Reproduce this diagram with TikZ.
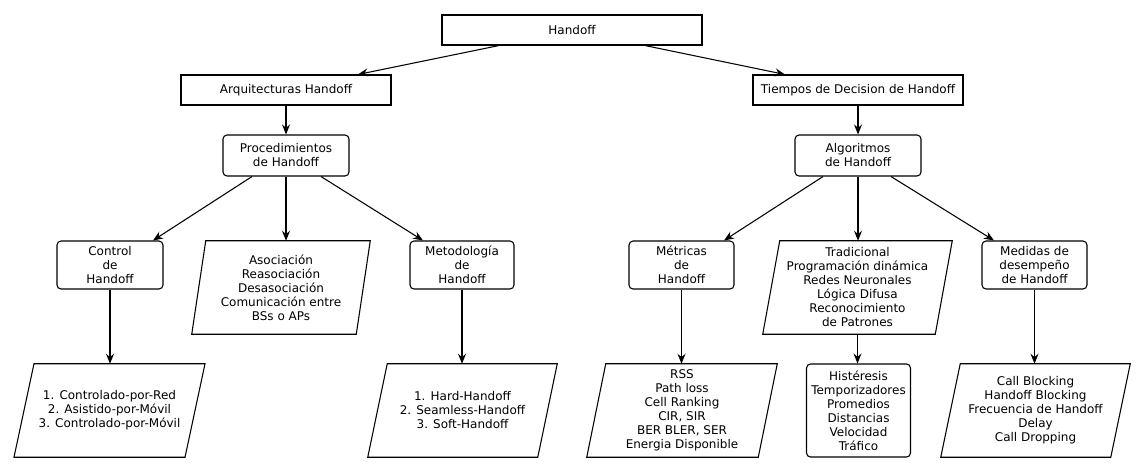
\documentclass[tikz,border=0pt]{standalone}
\usepackage{fontspec}
\setmainfont{DejaVu Sans}
\usetikzlibrary{arrows.meta,calc}
\newcommand{\drawpara}[2]{\draw[edge] ([shift={(#2/2,0)}]#1.north west) -- ([shift={(#2/2,0)}]#1.north east) -- ([shift={(-#2/2,0)}]#1.south east) -- ([shift={(-#2/2,0)}]#1.south west) -- cycle;}
\begin{document}
\begin{tikzpicture}[x=0.75pt,y=-0.75pt,
  every node/.style={font=\fontsize{9pt}{10.5pt}\selectfont, align=center, inner sep=0pt},
  edge/.style={line width=0.8pt, black},
  sqbox/.style={draw, edge, minimum width=#1*0.75pt, minimum height=30*0.75pt},
  rbox/.style={draw, edge, rounded corners=3pt, minimum width=#1*0.75pt},
  pbox/.style={minimum width=#1*0.75pt, minimum height=93*0.75pt},
  arr/.style={edge, -{Stealth[length=7.5pt,width=6pt,inset=2.5pt]}}]
\useasboundingbox (0,0) rectangle (1144,472);
\fill[white] (0,0) rectangle (1144,472);

% level 0-1
\node[sqbox=260] (root) at (572,30) {Handoff};
\node[sqbox=210] (arq) at (286,90) {Arquitecturas Handoff};
\node[sqbox=210] (tie) at (858,90) {Tiempos de Decision de Handoff};

% level 2
\node[rbox=126, minimum height=41*0.75pt] (proc) at (286,155.5) {Procedimientos\\de Handoff};
\node[rbox=126, minimum height=41*0.75pt] (alg) at (858,155.5) {Algoritmos\\de Handoff};

% level 3
\node[rbox=106, minimum height=48*0.75pt] (ctrl) at (110,265) {Control\\de\\Handoff};
\node[pbox=164] (asoc) at (281,287.5) {Asociación\\Reasociación\\Desasociación\\Comunicación entre\\BSs o APs};
\node[rbox=104, minimum height=48*0.75pt] (met) at (462,265) {Metodología\\de\\Handoff};
\node[rbox=105, minimum height=48*0.75pt] (metr) at (681.5,265) {Métricas\\de\\Handoff};
\node[pbox=172] (trad) at (857.5,287.5) {Tradicional\\Programación dinámica\\Redes Neuronales\\Lógica Difusa\\Reconocimiento\\de Patrones};
\node[rbox=105, minimum height=48*0.75pt] (med) at (1034.5,265) {Medidas de\\desempeño\\de Handoff};

% level 4
\node[pbox=170.5] (ctrlL) at (109.5,410.5) {1. Controlado-por-Red\\2. Asistido-por-Móvil\\3. Controlado-por-Móvil};
\node[pbox=169.5] (hard) at (462.5,410.5) {1. Hard-Handoff\\2. Seamless-Handoff\\3. Soft-Handoff};
\node[pbox=171] (rss) at (682,410.5) {RSS\\Path loss\\Cell Ranking\\CIR, SIR\\BER BLER, SER\\Energia Disponible};
\node[rbox=104, minimum height=93*0.75pt] (hist) at (858.5,410.5) {Histéresis\\Temporizadores\\Promedios\\Distancias\\Velocidad\\Tráfico};
\node[pbox=169.5] (medL) at (1035.5,410.5) {Call Blocking\\Handoff Blocking\\Frecuencia de Handoff\\Delay\\Call Dropping};

% parallelogram outlines
\drawpara{asoc}{14}
\drawpara{trad}{17}
\drawpara{ctrlL}{20}
\drawpara{hard}{19.5}
\drawpara{rss}{19}
\drawpara{medL}{19.5}

% connectors
\draw[arr] ($(root.south)+(-73,0)$) -- ($(arq.north)+(72,0)$);
\draw[arr] ($(root.south)+(73,0)$) -- ($(tie.north)+(-73,0)$);
\draw[arr] (arq.south) -- (proc.north);
\draw[arr] (tie.south) -- (alg.north);

\draw[arr] ($(proc.south)+(-34,0)$) -- ($(ctrl.north)+(43,0)$);
\draw[arr] (proc.south) -- (proc.south |- asoc.north);
\draw[arr] ($(proc.south)+(35,0)$) -- ($(met.north)+(-39,0)$);

\draw[arr] ($(alg.south)+(-35,0)$) -- ($(metr.north)+(42.5,0)$);
\draw[arr] (alg.south) -- (alg.south |- trad.north);
\draw[arr] ($(alg.south)+(33,0)$) -- ($(med.north)+(-40.5,0)$);

\draw[arr] (ctrl.south) -- (ctrl.south |- ctrlL.north);
\draw[arr] (met.south) -- (met.south |- hard.north);
\draw[arr] (metr.south) -- (metr.south |- rss.north);
\draw[arr] (trad.south) -- (trad.south |- hist.north);
\draw[arr] (med.south) -- (med.south |- medL.north);
\end{tikzpicture}
\end{document}
